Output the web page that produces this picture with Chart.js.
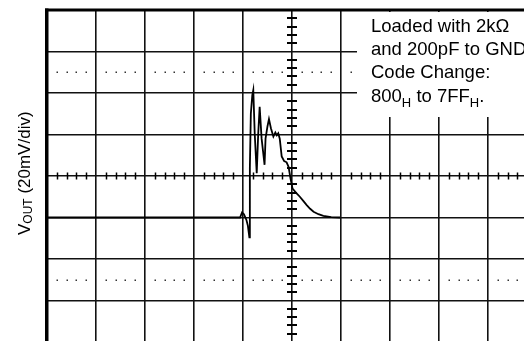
<!DOCTYPE html>
<html>
<head>
<meta charset="utf-8">
<script src="https://cdn.jsdelivr.net/npm/chart.js@4.4.1/dist/chart.umd.min.js"></script>
<style>
  html, body { margin: 0; padding: 0; background: #fff; }
  #wrap { width: 524px; height: 341px; }
</style>
</head>
<body>
<div id="wrap"><canvas id="scopeChart" width="524" height="341"></canvas></div>
<script>
const timeDiv = [0, 3.94, 3.98, 4.02, 4.07, 4.10, 4.13, 4.14, 4.16, 4.19, 4.21, 4.24, 4.28, 4.31, 4.34,
  4.38, 4.44, 4.46, 4.50, 4.53, 4.57, 4.62, 4.66, 4.69, 4.72, 4.75, 4.79, 4.84, 4.89, 4.93, 4.97, 5.01,
  5.08, 5.16, 5.23, 5.30, 5.37, 5.44, 5.54, 5.64, 5.80, 5.98];
const voutDiv = [-1, -1, -0.88, -0.92, -1.06, -1.2, -1.48, 0.2, 1.5, 1.95, 2.07, 1.0, 0.07, 1.0, 1.67,
  0.9, 0.27, 0.9, 1.2, 1.37, 1.15, 0.95, 1.05, 0.98, 1.03, 0.9, 0.47, 0.36, 0.33, 0.22, -0.06, -0.3,
  -0.40, -0.50, -0.60, -0.70, -0.79, -0.86, -0.92, -0.96, -0.99, -1.0];

// major grid divisions (the shot is cropped on the right and at the bottom)
const xGridVals = [0, 1, 2, 3, 4, 5, 6, 7, 8, 9];
const yGridVals = [-3, -2, -1, 0, 1, 2, 3, 4];
const noteLines = ['Loaded with 2k\u03A9', 'and 200pF to GND', 'Code Change:'];

const FONT = '"Liberation Sans", Arial, sans-serif';

// Tout le décor de l'oscilloscope : petites graduations, pointillés, cartouche, cadre, titre
const scopeDecor = {
  id: 'scopeDecor',
  beforeDatasetsDraw(chart) {
    const ctx = chart.ctx;
    const xs = chart.scales.x, ys = chart.scales.y;
    const area = chart.chartArea;
    const cx = xs.getPixelForValue(5);
    const cy = ys.getPixelForValue(0);
    ctx.save();
    ctx.strokeStyle = '#000';
    // graduations sur l'axe horizontal central
    ctx.lineWidth = 1.5;
    for (let k = 1; k < 50; k++) {
      if (k % 5 === 0) continue;
      const px = Math.round(xs.getPixelForValue(k * 0.2)) + 0.5;
      if (px > area.right) break;
      ctx.beginPath();
      ctx.moveTo(px, cy - 3.5);
      ctx.lineTo(px, cy + 3.5);
      ctx.stroke();
    }
    // graduations sur l'axe vertical central
    ctx.lineWidth = 2;
    for (let k = -20; k <= 20; k++) {
      if (k % 5 === 0) continue;
      const py = Math.round(ys.getPixelForValue(k * 0.2));
      if (py > area.bottom) continue;
      ctx.beginPath();
      ctx.moveTo(cx - 5, py);
      ctx.lineTo(cx + 5, py);
      ctx.stroke();
    }
    // lignes pointillées à +/-2.5 div
    ctx.fillStyle = '#333';
    [2.5, -2.5].forEach(function(v) {
      const py = Math.round(ys.getPixelForValue(v));
      for (let k = 1; k < 50; k++) {
        if (k % 5 === 0) continue;
        const px = Math.round(xs.getPixelForValue(k * 0.2));
        if (px > area.right) break;
        ctx.fillRect(px - 0.5, py - 0.5, 1.5, 1.5);
      }
    });
    // cartouche blanc en haut à droite
    ctx.fillStyle = '#fff';
    ctx.fillRect(357, area.top + 2, area.right - 357 + 2, 105);
    // cadre : bord gauche et bord haut plus épais
    const left = xs.getPixelForValue(0);
    const top = ys.getPixelForValue(4);
    ctx.fillStyle = '#000';
    ctx.fillRect(left - 2, top - 1.5, 3.5, area.bottom - top + 3);
    ctx.fillRect(left - 2, top - 1.5, area.right - left + 4, 3);
    ctx.restore();
  },
  afterDraw(chart) {
    const ctx = chart.ctx;
    ctx.save();
    ctx.fillStyle = '#000';
    ctx.textBaseline = 'alphabetic';
    ctx.textAlign = 'left';
    // note
    ctx.font = '18.5px ' + FONT;
    const x0 = 371;
    noteLines.forEach(function(line, i) {
      ctx.fillText(line, x0, 31.5 + i * 23.4);
    });
    let x = x0;
    const by = 101.7;
    const parts = [['800', 0], ['H', 1], [' to 7FF', 0], ['H', 1], ['.', 0]];
    parts.forEach(function(p) {
      ctx.font = (p[1] ? '13px ' : '18.5px ') + FONT;
      ctx.fillText(p[0], x, by + (p[1] ? 5 : 0));
      x += ctx.measureText(p[0]).width;
    });
    // titre de l'axe vertical
    ctx.translate(30, 235);
    ctx.rotate(-Math.PI / 2);
    let tx = 0;
    [['V', 0], ['OUT', 1], [' (20mV/div)', 0]].forEach(function(p) {
      ctx.font = (p[1] ? '12px ' : '17px ') + FONT;
      ctx.fillText(p[0], tx, p[1] ? 2 : 0);
      tx += ctx.measureText(p[0]).width;
    });
    ctx.restore();
  }
};

const points = timeDiv.map((t, i) => ({ x: t, y: voutDiv[i] }));

new Chart(document.getElementById('scopeChart').getContext('2d'), {
  type: 'line',
  data: {
    datasets: [{
      data: points,
      borderColor: '#000',
      borderWidth: 1.8,
      pointRadius: 0,
      tension: 0,
      fill: false
    }]
  },
  options: {
    responsive: false,
    animation: false,
    events: [],
    layout: { autoPadding: false, padding: { left: 47, top: 10, right: 0, bottom: 0 } },
    plugins: { legend: { display: false }, tooltip: { enabled: false } },
    scales: {
      x: {
        type: 'linear',
        min: 0,
        max: 477 / 49,
        afterBuildTicks: s => { s.ticks = xGridVals.map(v => ({ value: v })); },
        ticks: { display: false },
        border: { display: false },
        grid: { color: '#111', drawTicks: false, lineWidth: 1.6 }
      },
      y: {
        type: 'linear',
        min: 4 - 331 / 41.5,
        max: 4,
        afterBuildTicks: s => { s.ticks = yGridVals.map(v => ({ value: v })); },
        ticks: { display: false },
        border: { display: false },
        grid: { color: '#111', drawTicks: false, lineWidth: 1.6 }
      }
    }
  },
  plugins: [scopeDecor]
});
</script>
</body>
</html>
